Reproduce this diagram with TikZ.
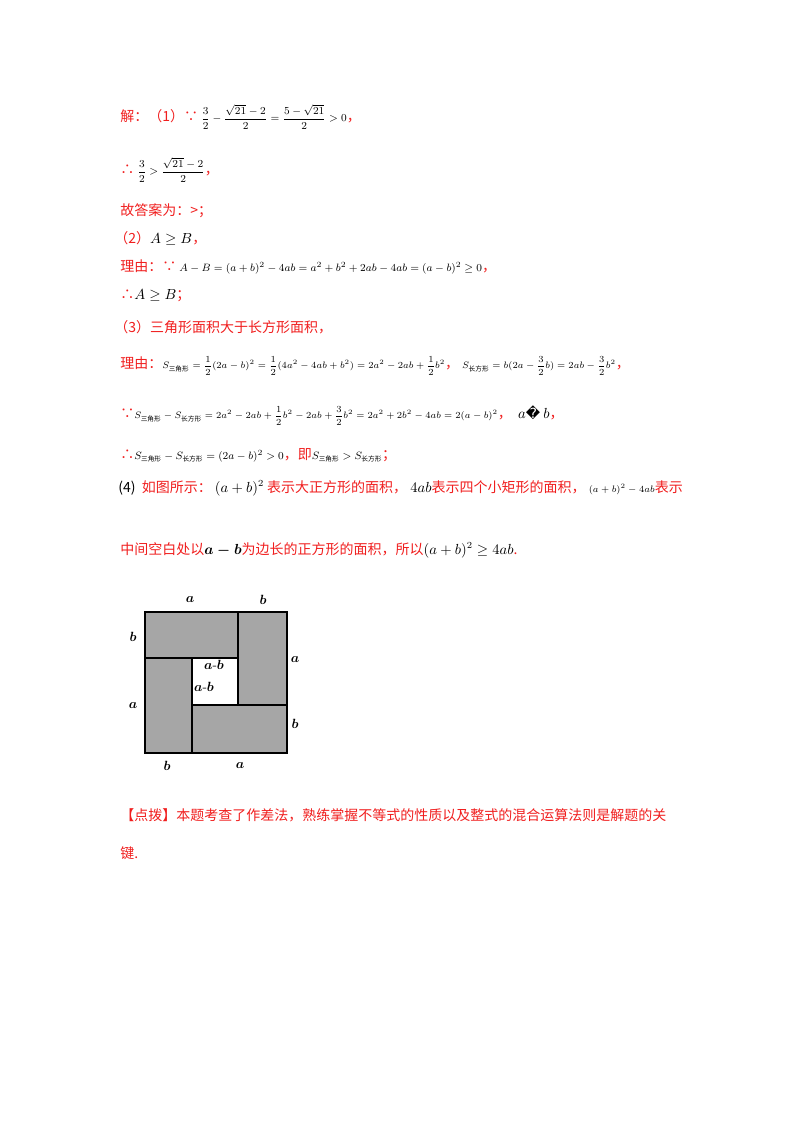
\documentclass[tikz,border=0pt]{standalone}
\usepackage{amsmath}
\usepackage{fontspec}
\newfontfamily\cjk{Noto Sans CJK SC}
\newfontfamily\djvu{DejaVu Sans}
\definecolor{rd}{RGB}{240,30,30}
\begin{document}
\begin{tikzpicture}[x=0.75pt,y=-0.75pt,
  t/.style={anchor=west,inner sep=0pt,font=\cjk\fontsize{10.5}{12}\selectfont,text=rd},
  lb/.style={inner sep=0pt,font=\fontsize{10}{12}\selectfont}]
\useasboundingbox (0,0) rectangle (800,1132);
\node[t] (l1) at (120,117) {解：（1）∵ \textcolor{black}{\fontsize{8}{9}\selectfont$\dfrac{3}{2}-\dfrac{\sqrt{21}-2}{2}=\dfrac{5-\sqrt{21}}{2}>0$}，};
\node[t] (l2) at (120,170) {∴ \textcolor{black}{\fontsize{8}{9}\selectfont$\dfrac{3}{2}>\dfrac{\sqrt{21}-2}{2}$}，};
\node[t] (l3) at (120,211) {故答案为：>；};
\node[t] (l4) at (114,238) {（2）\textcolor{black}{$A\geq B$}，};
\node[t] (l5) at (120,267) {理由：∵ \textcolor{black}{\fontsize{8}{9}\selectfont$A-B=(a+b)^2-4ab=a^2+b^2+2ab-4ab=(a-b)^2\geq0$}，};
\node[t] (l6) at (120,296) {∴\textcolor{black}{$A\geq B$}；};
\node[t] (l7) at (114,327) {（3）三角形面积大于长方形面积，};
\node[t] (l8) at (120,366) {理由：\textcolor{black}{\fontsize{7.5}{9}\selectfont$S_{\text{\cjk\tiny 三角形}}=\dfrac{1}{2}(2a-b)^2=\dfrac{1}{2}(4a^2-4ab+b^2)=2a^2-2ab+\dfrac{1}{2}b^2$}，\ \textcolor{black}{\fontsize{7.5}{9}\selectfont$S_{\text{\cjk\tiny 长方形}}=b(2a-\dfrac{3}{2}b)=2ab-\dfrac{3}{2}b^2$}，};
\node[t] (l9) at (120,416) {∵\textcolor{black}{\fontsize{7.5}{9}\selectfont$S_{\text{\cjk\tiny 三角形}}-S_{\text{\cjk\tiny 长方形}}=2a^2-2ab+\dfrac{1}{2}b^2-2ab+\dfrac{3}{2}b^2=2a^2+2b^2-4ab=2(a-b)^2$}，\ \ \textcolor{black}{$a${\djvu\char"FFFD}\ $b$}，};
\node[t] (l10) at (120,455) {∴\textcolor{black}{\fontsize{8}{9}\selectfont$S_{\text{\cjk\tiny 三角形}}-S_{\text{\cjk\tiny 长方形}}=(2a-b)^2>0$}，即\textcolor{black}{\fontsize{8}{9}\selectfont$S_{\text{\cjk\tiny 三角形}}>S_{\text{\cjk\tiny 长方形}}$}；};
\node[t] (l11) at (118,488) {\textcolor{black}{(4)}\ \ 如图所示：\ \textcolor{black}{$(a+b)^2$}\ 表示大正方形的面积，\ \textcolor{black}{$4ab$}表示四个小矩形的面积，\ \textcolor{black}{\fontsize{7}{8}\selectfont$(a+b)^2-4ab$}表示};
\node[t] (l12) at (120,550) {中间空白处以\textcolor{black}{$\boldsymbol{a-b}$}为边长的正方形的面积，所以\textcolor{black}{$(a+b)^2\geq4ab$}.};
\node[t] (l13) at (120,815) {【点拨】本题考查了作差法，熟练掌握不等式的性质以及整式的混合运算法则是解题的关};
\node[t] (l14) at (120,853) {键.};
\tikzset{g/.style={fill=black!35,draw=black,line width=1pt}}
\draw[g] (145,612) rectangle (238,658);
\draw[g] (238,612) rectangle (287,705);
\draw[g] (192,705) rectangle (287,753);
\draw[g] (145,658) rectangle (192,753);
\node[lb] (la1) at (190,600) {$\boldsymbol{a}$};
\node[lb] (lb1) at (263,600) {$\boldsymbol{b}$};
\node[lb] (lb2) at (133,637) {$\boldsymbol{b}$};
\node[lb] (la2) at (295,660) {$\boldsymbol{a}$};
\node[lb] (lab1) at (214,665) {$\boldsymbol{a}$-$\boldsymbol{b}$};
\node[lb] (lab2) at (204,687) {$\boldsymbol{a}$-$\boldsymbol{b}$};
\node[lb] (la3) at (133,706) {$\boldsymbol{a}$};
\node[lb] (lb3) at (295,724) {$\boldsymbol{b}$};
\node[lb] (lb4) at (167,766) {$\boldsymbol{b}$};
\node[lb] (la4) at (240,766) {$\boldsymbol{a}$};
\end{tikzpicture}
\end{document}
